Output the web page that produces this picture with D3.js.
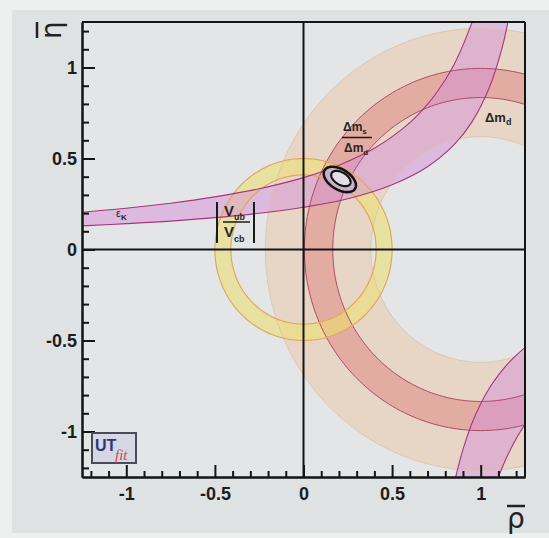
<!DOCTYPE html>
<html>
<head>
<meta charset="utf-8">
<script src="https://cdn.jsdelivr.net/npm/d3@7"></script>
<style>
  html, body { margin: 0; padding: 0; background: #eceeee; }
  svg { display: block; }
  .tick text { font-family: "Liberation Sans", Arial, sans-serif; font-weight: bold; font-size: 18px; fill: #1c1c1c; }
</style>
</head>
<body>
<svg id="chart" width="549" height="538"></svg>
<script>
// ---- axis ranges and ticks ----
const rhoDomain = [-1.25, 1.25];
const etaDomain = [-1.25, 1.25];
const majorTicks = [-1, -0.5, 0, 0.5, 1];
const majorTickLabels = ["-1", "-0.5", "0", "0.5", "1"];
const minorTicks = [-1.2, -1.1, -0.9, -0.8, -0.7, -0.6, -0.4, -0.3, -0.2, -0.1,
                    0.1, 0.2, 0.3, 0.4, 0.6, 0.7, 0.8, 0.9, 1.1, 1.2];

// ---- ring constraints: [centre rho, centre eta, inner radius, outer radius] ----
const dmdRing  = [1, 0, 0.62, 1.215];   // Δm_d
const dmsdRing = [1, 0, 0.835, 0.995];  // Δm_s / Δm_d
const vubRing  = [0, 0, 0.41, 0.50];    // |V_ub / V_cb|

// ---- ε_K band edges, (rho, eta) ----
const epsKUpperEdge = [[-1.3, 0.201], [-1.25, 0.205], [-1.0, 0.227], [-0.75, 0.254], [-0.5, 0.289],
  [-0.25, 0.334], [0, 0.395], [0.2, 0.463], [0.4, 0.556], [0.55, 0.656], [0.65, 0.744],
  [0.75, 0.86], [0.85, 1.017], [0.95, 1.245], [0.98, 1.335]];
const epsKLowerEdge = [[-1.3, 0.127], [-1.25, 0.13], [-1.0, 0.142], [-0.75, 0.156], [-0.5, 0.175],
  [-0.25, 0.199], [0, 0.232], [0.25, 0.279], [0.5, 0.356], [0.7, 0.455], [0.85, 0.576],
  [0.95, 0.70], [1.05, 0.893], [1.12, 1.105], [1.154, 1.25], [1.17, 1.33]];
// second branch, lower right
const epsKBranchLeftEdge = [[0.843, -1.32], [0.859, -1.25], [0.9, -1.098], [0.95, -0.956], [1.0, -0.847],
  [1.05, -0.76], [1.1, -0.69], [1.15, -0.631], [1.2, -0.582], [1.25, -0.539], [1.3, -0.503]];
const epsKBranchRightEdge = [[1.073, -1.32], [1.1, -1.25], [1.15, -1.135], [1.2, -1.04], [1.25, -0.96], [1.3, -0.891]];

// ---- fit contours: [rho, eta, semi-major, semi-minor, angle in degrees] ----
const fitContours = [[0.205, 0.385, 0.10, 0.056, -30], [0.211, 0.39, 0.060, 0.034, -30]];

// ---- frame ----
const svg = d3.select("#chart");
const W = 549, H = 538;
const plot = { left: 82, right: 525, top: 22, bottom: 477 };

const x = d3.scaleLinear().domain(rhoDomain).range([plot.left, plot.right]);
const y = d3.scaleLinear().domain(etaDomain).range([plot.bottom, plot.top]);

// page background
svg.append("rect").attr("width", W).attr("height", H).attr("fill", "#eef0f0");
svg.append("rect").attr("x", 12).attr("y", 10).attr("width", W - 12).attr("height", 523).attr("fill", "#dfe2e3");
svg.append("rect").attr("x", plot.left).attr("y", plot.top)
  .attr("width", plot.right - plot.left).attr("height", plot.bottom - plot.top)
  .attr("fill", "#e3e5e6");

svg.append("clipPath").attr("id", "plotClip").append("rect")
  .attr("x", plot.left).attr("y", plot.top)
  .attr("width", plot.right - plot.left).attr("height", plot.bottom - plot.top);

const layer = svg.append("g").attr("clip-path", "url(#plotClip)");

const closed = d3.line().curve(d3.curveLinearClosed);
const smooth = d3.line().x(d => x(d[0])).y(d => y(d[1])).curve(d3.curveCatmullRom.alpha(0.5));

function circlePoints(cx, cy, r) {
  return d3.range(0, 360, 1.5).map(a => {
    const t = a * Math.PI / 180;
    return [x(cx + r * Math.cos(t)), y(cy + r * Math.sin(t))];
  });
}
function ringPath(ring) {
  const [cx, cy, r0, r1] = ring;
  return closed(circlePoints(cx, cy, r1)) + closed(circlePoints(cx, cy, r0));
}
function ellipsePoints(c) {
  const [cx, cy, a, b, ang] = c;
  const th = ang * Math.PI / 180;
  return d3.range(0, 360, 3).map(d => {
    const t = d * Math.PI / 180;
    const ex = a * Math.cos(t), ey = b * Math.sin(t);
    return [x(cx + ex * Math.cos(th) - ey * Math.sin(th)), y(cy + ex * Math.sin(th) + ey * Math.cos(th))];
  });
}
function bandPath(edgeA, edgeB) {
  const a = smooth(edgeA);
  const b = smooth(edgeB.slice().reverse());
  return a + "L" + b.slice(1) + "Z";
}

// ---- filled regions ----
layer.append("path").attr("d", ringPath(dmdRing)).attr("fill-rule", "evenodd")
  .attr("fill", "#e9cfb5").attr("fill-opacity", 0.68);
layer.append("path").attr("d", ringPath(dmsdRing)).attr("fill-rule", "evenodd")
  .attr("fill", "#e08282").attr("fill-opacity", 0.5);
layer.append("path").attr("d", ringPath(vubRing)).attr("fill-rule", "evenodd")
  .attr("fill", "#ece070").attr("fill-opacity", 0.58);
layer.append("path").attr("d", bandPath(epsKUpperEdge, epsKLowerEdge))
  .attr("fill", "#d690d8").attr("fill-opacity", 0.5);
layer.append("path").attr("d", bandPath(epsKBranchLeftEdge, epsKBranchRightEdge))
  .attr("fill", "#d690d8").attr("fill-opacity", 0.5);

// ---- region edges ----
function ringEdges(ring, color, width) {
  const [cx, cy, r0, r1] = ring;
  [r0, r1].forEach(r => layer.append("path").attr("d", closed(circlePoints(cx, cy, r)))
    .attr("fill", "none").attr("stroke", color).attr("stroke-width", width));
}
ringEdges(dmdRing, "#dcc0a4", 0.8);
ringEdges(dmsdRing, "#b04a68", 1.0);
ringEdges(vubRing, "#e2a65c", 1.2);
[epsKUpperEdge, epsKLowerEdge, epsKBranchLeftEdge, epsKBranchRightEdge].forEach(edge =>
  layer.append("path").attr("d", smooth(edge)).attr("fill", "none")
    .attr("stroke", "#a8357c").attr("stroke-width", 1.1));

// ---- zero lines ----
layer.append("line").attr("x1", plot.left).attr("x2", plot.right).attr("y1", y(0)).attr("y2", y(0))
  .attr("stroke", "#151515").attr("stroke-width", 2);
layer.append("line").attr("x1", x(0)).attr("x2", x(0)).attr("y1", plot.top).attr("y2", plot.bottom)
  .attr("stroke", "#151515").attr("stroke-width", 2);

// ---- fit contours ----
layer.append("path").attr("d", closed(ellipsePoints(fitContours[0])))
  .attr("fill", "#c9b2c9").attr("stroke", "#141414").attr("stroke-width", 2.6);
layer.append("path").attr("d", closed(ellipsePoints(fitContours[1])))
  .attr("fill", "#e2dde6").attr("stroke", "#141414").attr("stroke-width", 2.2);

// ---- axes ----
const axisColor = "#141414";
function styleAxis(g) {
  g.select(".domain").attr("stroke", axisColor).attr("stroke-width", 2);
  g.selectAll(".tick line").attr("stroke", axisColor).attr("stroke-width", 2);
}
// left
svg.append("g").attr("transform", `translate(${plot.left},0)`)
  .call(d3.axisLeft(y).tickValues(minorTicks).tickSize(-7).tickSizeOuter(0).tickFormat(""))
  .call(styleAxis);
svg.append("g").attr("transform", `translate(${plot.left},0)`)
  .call(d3.axisLeft(y).tickValues(majorTicks).tickSize(-13).tickSizeOuter(0).tickPadding(5)
    .tickFormat((d, i) => majorTickLabels[i]))
  .call(styleAxis);
// bottom
svg.append("g").attr("transform", `translate(0,${plot.bottom})`)
  .call(d3.axisBottom(x).tickValues(minorTicks).tickSize(-6).tickSizeOuter(0).tickFormat(""))
  .call(styleAxis);
svg.append("g").attr("transform", `translate(0,${plot.bottom})`)
  .call(d3.axisBottom(x).tickValues(majorTicks).tickSize(-12).tickSizeOuter(0).tickPadding(10)
    .tickFormat((d, i) => majorTickLabels[i]))
  .call(styleAxis);
// top and right frame
svg.append("line").attr("x1", plot.left).attr("x2", plot.right).attr("y1", plot.top).attr("y2", plot.top)
  .attr("stroke", axisColor).attr("stroke-width", 2);
svg.append("line").attr("x1", plot.right).attr("x2", plot.right).attr("y1", plot.top).attr("y2", plot.bottom)
  .attr("stroke", axisColor).attr("stroke-width", 2);

// ---- axis titles ----
svg.append("text").attr("transform", "translate(61,30) rotate(-90)")
  .attr("text-anchor", "middle").attr("font-family", "DejaVu Sans, sans-serif")
  .attr("font-size", 28).attr("fill", "#222").text("η");
svg.append("line").attr("x1", 37).attr("x2", 37).attr("y1", 22).attr("y2", 38)
  .attr("stroke", "#222").attr("stroke-width", 2.5);
svg.append("text").attr("x", 516).attr("y", 528)
  .attr("text-anchor", "middle").attr("font-family", "DejaVu Sans, sans-serif")
  .attr("font-size", 28).attr("fill", "#222").text("ρ");
svg.append("line").attr("x1", 507).attr("x2", 525).attr("y1", 506).attr("y2", 506)
  .attr("stroke", "#222").attr("stroke-width", 2.5);

// ---- constraint labels ----
const lab = svg.append("g").attr("font-family", "Liberation Sans, Arial, sans-serif").attr("fill", "#262626");

// ε_K
const eps = lab.append("text").attr("x", 116).attr("y", 217).attr("font-size", 11);
eps.append("tspan").text("ε");
eps.append("tspan").attr("dy", 3).attr("font-size", 8).attr("font-weight", "bold").text("K");

// |V_ub / V_cb|
lab.append("line").attr("x1", 217).attr("x2", 217).attr("y1", 202).attr("y2", 243)
  .attr("stroke", "#1a1a1a").attr("stroke-width", 2);
lab.append("line").attr("x1", 254).attr("x2", 254).attr("y1", 202).attr("y2", 243)
  .attr("stroke", "#1a1a1a").attr("stroke-width", 2);
lab.append("line").attr("x1", 223).attr("x2", 250).attr("y1", 222).attr("y2", 222)
  .attr("stroke", "#1a1a1a").attr("stroke-width", 1.5);
const vub = lab.append("text").attr("x", 224).attr("y", 216).attr("font-size", 15).attr("font-weight", "bold");
vub.append("tspan").text("V");
vub.append("tspan").attr("dy", 4).attr("font-size", 9).text("ub");
const vcb = lab.append("text").attr("x", 224).attr("y", 237).attr("font-size", 15).attr("font-weight", "bold");
vcb.append("tspan").text("V");
vcb.append("tspan").attr("dy", 5).attr("font-size", 9).text("cb");

// Δm_s / Δm_d
const dms = lab.append("text").attr("x", 343).attr("y", 131).attr("font-size", 12).attr("font-weight", "bold");
dms.append("tspan").text("Δm");
dms.append("tspan").attr("dy", 3).attr("font-size", 8).text("s");
lab.append("line").attr("x1", 342).attr("x2", 372).attr("y1", 137.5).attr("y2", 137.5)
  .attr("stroke", "#1a1a1a").attr("stroke-width", 1.5);
const dmd2 = lab.append("text").attr("x", 344).attr("y", 152).attr("font-size", 12).attr("font-weight", "bold");
dmd2.append("tspan").text("Δm");
dmd2.append("tspan").attr("dy", 3).attr("font-size", 8).text("d");

// Δm_d
const dmd = lab.append("text").attr("x", 485).attr("y", 122).attr("font-size", 13).attr("font-weight", "bold");
dmd.append("tspan").text("Δm");
dmd.append("tspan").attr("dy", 3).attr("font-size", 9).text("d");

// ---- UTfit logo ----
const logo = svg.append("g");
logo.append("rect").attr("x", 92).attr("y", 433).attr("width", 44).attr("height", 30)
  .attr("fill", "#d6d7e5").attr("stroke", "#4a4a5a").attr("stroke-width", 2);
logo.append("text").attr("x", 95).attr("y", 451).attr("font-family", "Liberation Sans, Arial, sans-serif")
  .attr("font-weight", "bold").attr("font-size", 16).attr("fill", "#2b3580").text("UT");
logo.append("text").attr("x", 115).attr("y", 460).attr("font-family", "Liberation Serif, serif")
  .attr("font-style", "italic").attr("font-size", 15).attr("fill", "#d2454f").text("fit");
</script>
</body>
</html>
